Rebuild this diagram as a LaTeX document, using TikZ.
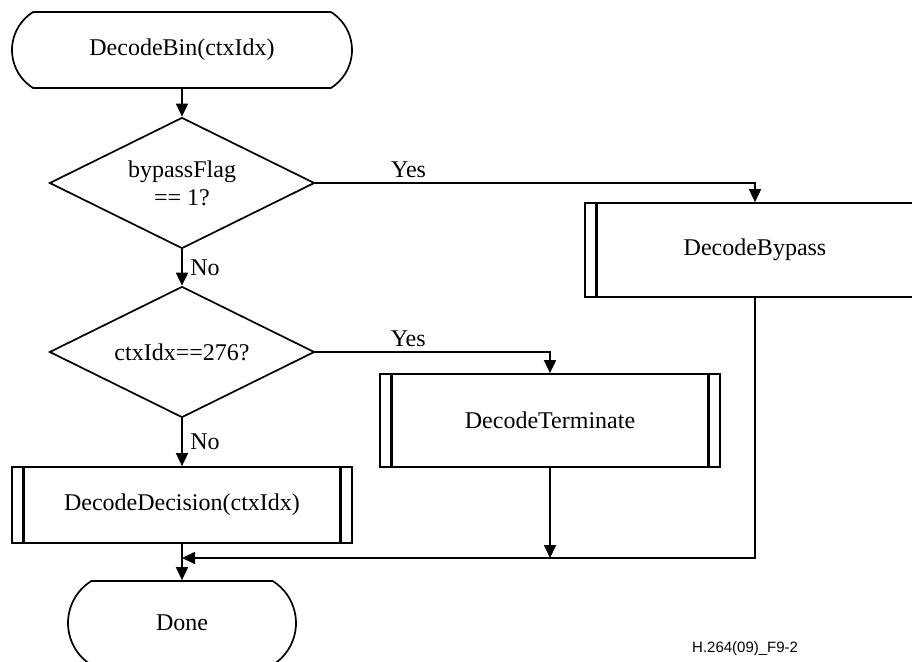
\documentclass[tikz,border=0pt]{standalone}
\usepackage{fontspec}
\setmainfont{Liberation Serif}
\newfontfamily\figfont{Liberation Sans}
\usetikzlibrary{positioning,calc,arrows.meta,shapes.geometric,shapes.misc}

\begin{document}
\begin{tikzpicture}[
    x=1pt, y=-1pt,
    txt/.style={font=\fontsize{24}{28}\selectfont},
    term/.style={draw, line width=1.7pt, rounded rectangle, rounded rectangle arc length=116, inner sep=0pt, txt},
    cond/.style={draw, line width=1.7pt, diamond, aspect=2.5, minimum width=265pt, minimum height=131pt, inner sep=0pt, align=center, txt},
    proc/.style={draw, line width=1.7pt, rectangle, minimum width=340pt, inner sep=0pt, txt},
    bar/.style={line width=2.8pt},
    arr/.style={line width=1.7pt, -{Triangle[length=13pt,width=12pt]}},
    lab/.style={txt, inner sep=0pt}
]
\useasboundingbox (0,0) rectangle (912,661);
\clip (0,0) rectangle (912,661);

% Start, tests
\node[term, minimum width=340pt, minimum height=76pt] (bin) at (182,50) {DecodeBin(ctxIdx)};
\node[cond] (flag) at (182,183) {bypassFlag\\== 1?};
\node[cond] (ctx) at (182,352) {ctxIdx==276?};

% Decoding processes
\node[proc, minimum height=94pt] (bypass) at (755,250) {DecodeBypass};
\node[proc, minimum height=93pt] (term) at (550,420.5) {DecodeTerminate};
\node[proc, minimum height=76pt] (dec) at (182,505) {DecodeDecision(ctxIdx)};
\foreach \n in {bypass,term,dec} {
    \draw[bar] ($(\n.north west)+(12,0)$) -- ($(\n.south west)+(12,0)$);
    \draw[bar] ($(\n.north east)+(-12,0)$) -- ($(\n.south east)+(-12,0)$);
}

% End
\node[term, minimum width=228pt, minimum height=84pt] (done) at (182,623) {Done};
\coordinate (join) at (182,558);

% Flow
\draw[arr] (bin) -- (flag);
\draw[arr] (flag.east) -| node[pos=0.106, above=4pt, lab] {Yes} (bypass.north);
\draw[arr] (flag.south) -- node[midway, right=7.5pt, lab] {No} (ctx.north);
\draw[arr] (ctx.east) -| node[pos=0.198, above=4pt, lab] {Yes} (term.north);
\draw[arr] (ctx.south) -- node[midway, right=7.5pt, lab] {No} (dec.north);
\draw[arr] (dec.south) -- (done.north);
\draw[arr] (bypass.south) |- (join);
\draw[arr] (term.south) -- (term.south |- join);

\node[anchor=north west, inner sep=0pt, font=\figfont\fontsize{15}{18}\selectfont] (figid) at (692,641) {H.264(09)\_F9-2};
\end{tikzpicture}
\end{document}
